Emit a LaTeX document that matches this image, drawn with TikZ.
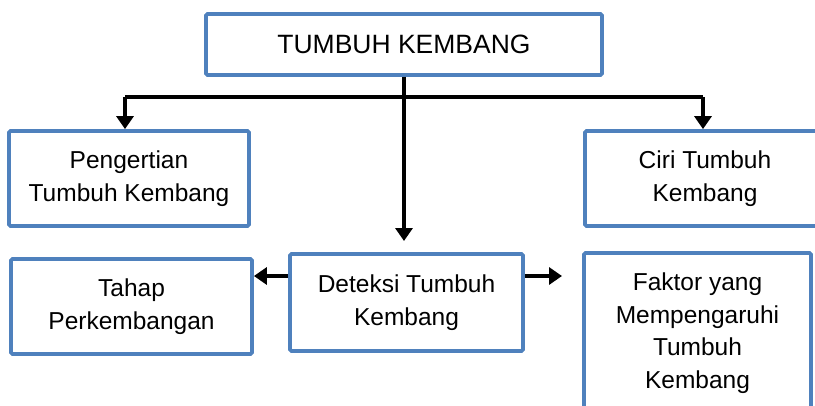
\documentclass[tikz,border=0pt]{standalone}
\usepackage{fontspec}
\setmainfont{Liberation Sans}
\usetikzlibrary{arrows.meta}
\definecolor{boxblue}{RGB}{79,129,189}
\begin{document}
\begin{tikzpicture}[x=1pt,y=-1pt,
  box/.style={draw=boxblue,line width=3.8pt,rounded corners=1.5pt,fill=white,align=center,
    font=\fontsize{24.5}{32.5}\selectfont,inner sep=0pt},
  conn/.style={line width=4pt,-{Triangle[width=17pt,length=13pt]}},
  bar/.style={line width=4pt}]
\useasboundingbox (0,0) rectangle (815,405);
\node[box,minimum width=396pt,minimum height=61pt,font=\fontsize{26.5}{32}\selectfont] (top) at (404,44.5) {TUMBUH KEMBANG};
\node[box,minimum width=240pt,minimum height=95pt] (peng) at (129,178.5) {Pengertian\\Tumbuh Kembang};
\node[box,minimum width=240pt,minimum height=95pt] (ciri) at (705,178.5) {Ciri Tumbuh\\Kembang};
\node[box,minimum width=241pt,minimum height=95pt] (tahap) at (131.5,306.5) {Tahap\\Perkembangan};
\node[box,minimum width=233pt,minimum height=97pt] (det) at (406.5,302.5) {Deteksi Tumbuh\\Kembang};
\node[box,minimum width=227pt,minimum height=160pt] (fak) at (697.5,333) {Faktor yang\\Mempengaruhi\\Tumbuh\\Kembang};
\coordinate (jl) at (125,97);
\coordinate (jr) at (703,97);
\coordinate (vtip) at (top.south |- 0,241);
\draw[bar] (jl) -- (jr);
\draw[conn] (top.south) -- (vtip);
\draw[conn] (jl) -- (jl |- peng.north);
\draw[conn] (jr) -- (jr |- ciri.north);
\draw[conn] (det.west |- 0,276) -- (tahap.east |- 0,276);
\coordinate (rtip) at (562,276);
\draw[conn] (det.east |- rtip) -- (rtip);
\end{tikzpicture}
\end{document}
